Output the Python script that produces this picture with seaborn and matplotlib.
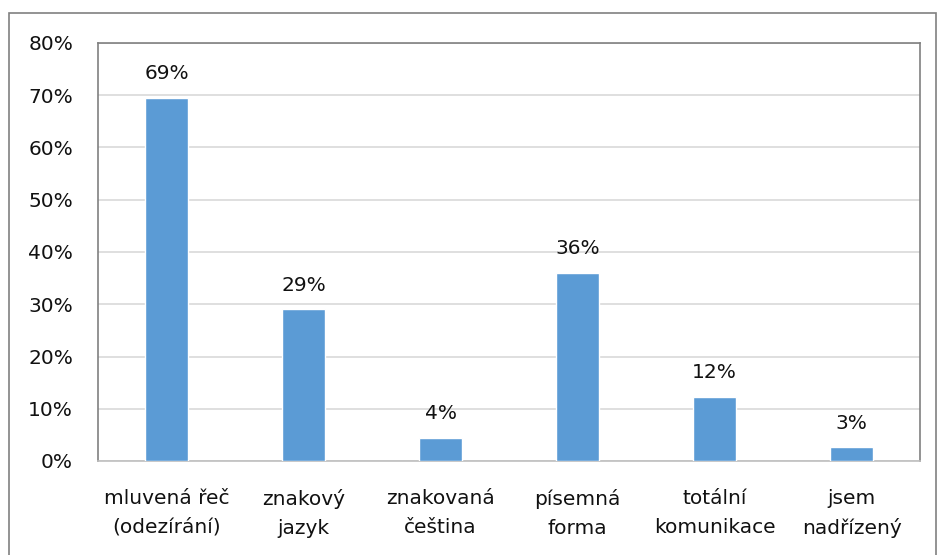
import matplotlib
matplotlib.use("Agg")
import matplotlib.pyplot as plt
import seaborn as sns
import pandas as pd
from matplotlib.patches import Rectangle
from matplotlib.ticker import MultipleLocator, FuncFormatter

categories = ["mluvená řeč\n(odezírání)", "znakový\njazyk", "znakovaná\nčeština",
              "písemná\nforma", "totální\nkomunikace", "jsem\nnadřízený"]
values = [69.5, 29.0, 4.45, 36.0, 12.3, 2.6]
labels = ["69%", "29%", "4%", "36%", "12%", "3%"]

sns.set_theme(style="white")
plt.rcParams['font.family'] = ['DejaVu Sans']

df = pd.DataFrame({"cat": categories, "val": values})

fig = plt.figure(figsize=(9.38, 5.55), dpi=100)
ax = fig.add_axes([98/938, 1-461/555, (920-98)/938, (461-43)/555])

sns.barplot(data=df, x="cat", y="val", color="#5b9bd5", width=0.31,
            saturation=1, ax=ax, zorder=3)

for i, (v, t) in enumerate(zip(values, labels)):
    ax.annotate(t, (i, v), xytext=(0, 13.5), textcoords="offset points",
                ha="center", va="baseline", fontsize=14.5, color="#111111")

ax.set_ylim(0, 80)
ax.set_xlim(-0.5, 5.5)
ax.yaxis.set_major_locator(MultipleLocator(10))
ax.yaxis.set_major_formatter(FuncFormatter(lambda v, p: f"{v:.0f}%"))
ax.grid(axis="y", color="#d9d9d9", linewidth=1.2, zorder=0)
ax.set_xlabel("")
ax.set_ylabel("")
ax.tick_params(axis="y", length=0, pad=18, labelsize=14.5, labelcolor="#111111")
ax.tick_params(axis="x", length=0, pad=20, labelsize=14.5, labelcolor="#111111")
for lab in ax.get_xticklabels():
    lab.set_linespacing(1.65)
for s in ax.spines.values():
    s.set_color("#808080")
    s.set_linewidth(1.2)
ax.spines["bottom"].set_color("#bfbfbf")

fig.patches.append(Rectangle((9/938, -0.1), (936-9)/938, 1 - 13/555 + 0.1,
                             transform=fig.transFigure, fill=False,
                             edgecolor="#808080", linewidth=1.2))

fig.savefig("out.png", dpi=100, facecolor="white")
